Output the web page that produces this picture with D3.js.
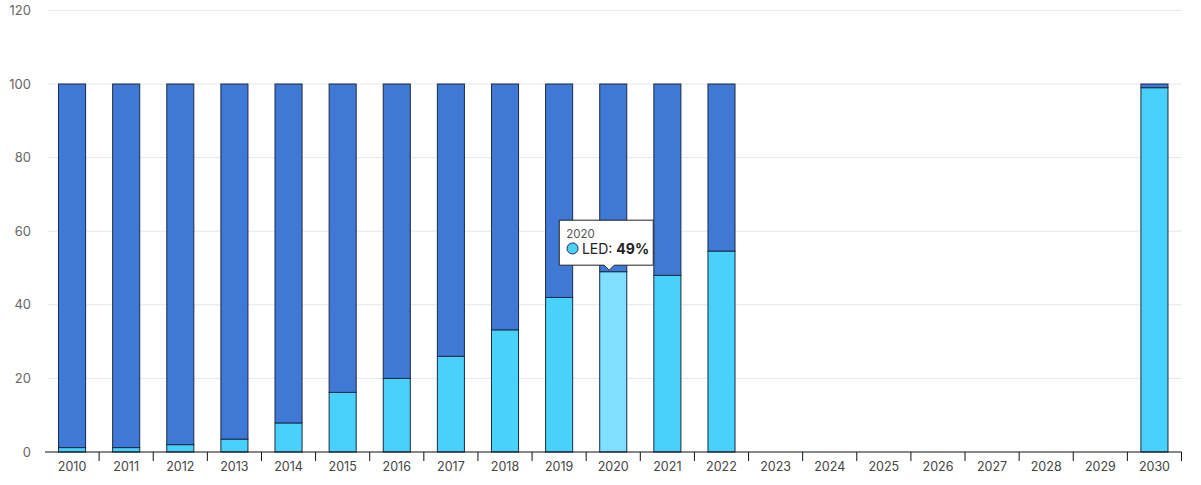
<!DOCTYPE html>
<html><head><meta charset="utf-8">
<script src="https://cdn.jsdelivr.net/npm/d3@7"></script>
<style>
body{margin:0;background:#fff;font-family:Inter,"Noto Sans",sans-serif;}
</style></head><body>
<svg id="c" width="1201" height="485"></svg>
<script>
const years = ["2010","2011","2012","2013","2014","2015","2016","2017","2018","2019","2020","2021","2022","2023","2024","2025","2026","2027","2028","2029","2030"];
const led =   [1.2, 1.2, 2, 3.5, 7.9, 16.2, 20, 26, 33.2, 42, 49, 48, 54.6, null, null, null, null, null, null, null, 99];
const other = [98.8, 98.8, 98, 96.5, 92.1, 83.8, 80, 74, 66.8, 58, 51, 52, 45.4, null, null, null, null, null, null, null, 1];
const yTicks = [0, 20, 40, 60, 80, 100, 120];
const hoverYear = "2020";

const svg = d3.select("#c");
const m = {l:45, r:1181.5, t:10.4, b:452};
const x = d3.scaleBand().domain(years).range([m.l, m.r]).paddingInner(0.5).paddingOuter(0.25);
const y = d3.scaleLinear().domain([0,120]).range([m.b, m.t]);

// grid
svg.append("g").selectAll("line").data(yTicks.filter(d=>d>0)).join("line")
  .attr("x1", 48).attr("x2", m.r).attr("y1", d=>y(d)).attr("y2", d=>y(d))
  .attr("stroke", "#e6e6e6").attr("stroke-width", 1);

// y labels
svg.append("g").selectAll("text").data(yTicks).join("text")
  .attr("x", 31).attr("y", d=>y(d)+4.5).attr("text-anchor","end")
  .attr("font-size", 13).attr("fill", "#666").text(d=>d);

const colLed = "#48d2fb", colLedHover = "#7fdfff", colOther = "#3f79d5", stroke = "#1b2b45";
const g = svg.append("g");
years.forEach((yr,i)=>{
  if (led[i]==null) return;
  g.append("rect").attr("x", x(yr)).attr("width", x.bandwidth())
    .attr("y", y(led[i])).attr("height", y(0)-y(led[i]))
    .attr("fill", yr===hoverYear?colLedHover:colLed).attr("stroke", stroke).attr("stroke-width", 1);
  g.append("rect").attr("x", x(yr)).attr("width", x.bandwidth())
    .attr("y", y(led[i]+other[i])).attr("height", y(led[i])-y(led[i]+other[i]))
    .attr("fill", colOther).attr("stroke", stroke).attr("stroke-width", 1);
});

// x axis
svg.append("line").attr("x1", m.l).attr("x2", m.r).attr("y1", m.b).attr("y2", m.b)
  .attr("stroke", "#111").attr("stroke-width", 1.2);
const bounds = years.map(yr => x(yr) - x.bandwidth()/2).concat([x(years[years.length-1]) + x.bandwidth()*1.5]);
svg.append("g").selectAll("line").data(bounds.slice(1)).join("line")
  .attr("x1", d=>d).attr("x2", d=>d).attr("y1", m.b).attr("y2", m.b+9)
  .attr("stroke", "#111").attr("stroke-width", 1);
svg.append("g").selectAll("text").data(years).join("text")
  .attr("x", d=>x(d)+x.bandwidth()/2).attr("y", 471).attr("text-anchor","middle")
  .attr("font-size", 12.5).attr("fill", "#444").text(d=>d);

// tooltip
const hi = years.indexOf(hoverYear);
const cx = x(hoverYear) + x.bandwidth()/2;
const py = y(led[hi]);
const tw = 94, th = 45;
const tx = cx - 54, ty = py - 51.5;
const tt = svg.append("g");
tt.append("path")
  .attr("d", `M${tx},${ty} h${tw} v${th} H${cx+1} l-5,5 l-5,-5 H${tx} Z`)
  .attr("fill", "#fff").attr("stroke", "#222").attr("stroke-width", 1);
tt.append("text").attr("x", tx+7).attr("y", ty+18).attr("font-size", 11.5).attr("fill", "#555").text(hoverYear);
tt.append("circle").attr("cx", tx+13.3).attr("cy", ty+28.3).attr("r", 5.5)
  .attr("fill", colLed).attr("stroke", "#1b2b45").attr("stroke-width", 1);
const t2 = tt.append("text").attr("x", tx+22.7).attr("y", ty+34).attr("font-size", 14).attr("fill", "#222");
t2.append("tspan").text("LED: ");
t2.append("tspan").attr("font-weight", "bold").text(led[hi] + "%");
</script>
</body></html>
